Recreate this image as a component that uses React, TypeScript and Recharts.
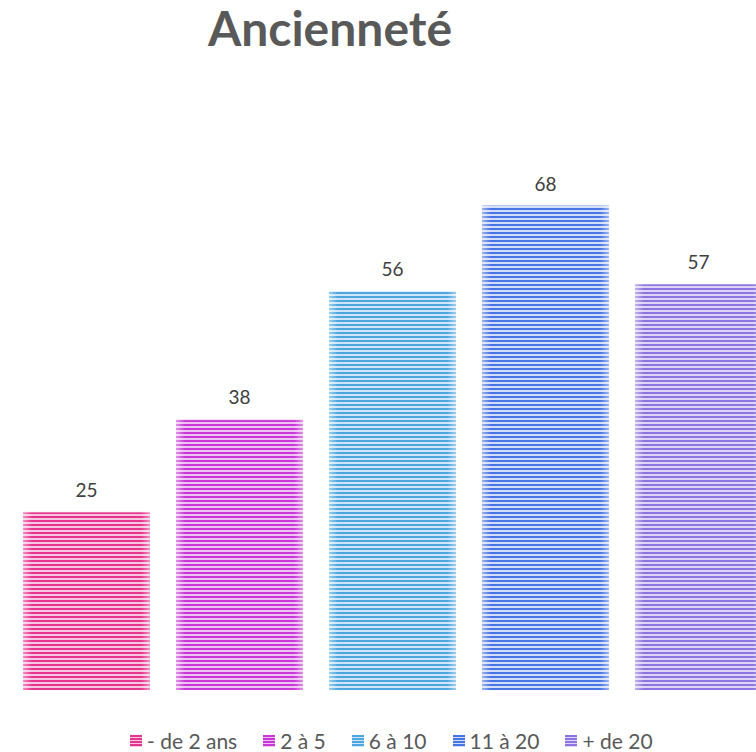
import { BarChart, Bar, XAxis, YAxis, Cell, LabelList } from "recharts";

const categories = ["- de 2 ans", "2 à 5", "6 à 10", "11 à 20", "+ de 20"];
const values = [25, 38, 56, 68, 57];
const darkColors = ["#E6358E", "#C936D6", "#4DA6DF", "#4875E4", "#8D74E0"];
const lightColors = ["#F8C6DF", "#EEC3F3", "#CFE6F7", "#D2DDF9", "#DDD4F7"];

const data = categories.map((name, i) => ({ name, value: values[i] }));

const font = "Lato, 'Open Sans', sans-serif";

function StripedBar(props: any) {
  const { x, y, width, height, index } = props;
  if (!height || height <= 0) return null;
  return (
    <g>
      <rect x={x} y={y} width={width} height={height} fill={`url(#stripe${index})`} />
      <rect x={x} y={y} width={width} height={height} fill="url(#edgeFade)" />
      <rect x={x} y={y} width={width} height={1} fill="#ffffff" fillOpacity={0.35} />
    </g>
  );
}

export default function App() {
  return (
    <div
      style={{
        position: "fixed",
        left: 0,
        top: 0,
        width: 756,
        height: 752,
        overflow: "hidden",
        background: "#fff",
        fontFamily: font,
      }}
    >
      <div
        style={{
          position: "absolute",
          left: 130,
          width: 400,
          top: 2,
          textAlign: "center",
          fontSize: 48,
          fontWeight: 700,
          color: "#595959",
          lineHeight: "52px",
        }}
      >
        Ancienneté
      </div>
      <BarChart
        width={785}
        height={752}
        data={data}
        margin={{ top: 120, right: 10, bottom: 62, left: 10 }}
        barSize={127}
      >
        <defs>
          {darkColors.map((c, i) => (
            <pattern key={i} id={`stripe${i}`} patternUnits="userSpaceOnUse" width={4} height={4}>
              <rect x={0} y={0} width={4} height={4} fill={lightColors[i]} />
              <rect x={0} y={0} width={4} height={2} fill={c} />
            </pattern>
          ))}
          <linearGradient id="edgeFade" x1="0" y1="0" x2="1" y2="0">
            <stop offset="0" stopColor="#ffffff" stopOpacity={0.45} />
            <stop offset="0.07" stopColor="#ffffff" stopOpacity={0} />
            <stop offset="0.93" stopColor="#ffffff" stopOpacity={0} />
            <stop offset="1" stopColor="#ffffff" stopOpacity={0.45} />
          </linearGradient>
        </defs>
        <XAxis dataKey="name" hide />
        <YAxis domain={[0, 80]} hide />
        <Bar dataKey="value" isAnimationActive={false} shape={StripedBar}>
          {data.map((d, i) => (
            <Cell key={d.name} fill={darkColors[i]} />
          ))}
          <LabelList
            dataKey="value"
            position="top"
            offset={15}
            fill="#404040"
            fontSize={19}
            fontFamily={font}
          />
        </Bar>
      </BarChart>
      <div
        style={{
          position: "absolute",
          left: 130,
          top: 728,
          height: 26,
          display: "flex",
          alignItems: "center",
          fontSize: 21,
          lineHeight: "26px",
          color: "#595959",
          whiteSpace: "nowrap",
        }}
      >
        {categories.map((c, i) => (
          <div key={c} style={{ display: "flex", alignItems: "center", marginRight: 26 }}>
            <svg width={12} height={12} style={{ marginRight: 5 }}>
              <rect width={12} height={12} fill={`url(#legStripe${i})`} />
              <defs>
                <pattern id={`legStripe${i}`} patternUnits="userSpaceOnUse" width={3} height={3}>
                  <rect width={3} height={3} fill={lightColors[i]} />
                  <rect width={3} height={2} fill={darkColors[i]} />
                </pattern>
              </defs>
            </svg>
            <span>{c}</span>
          </div>
        ))}
      </div>
    </div>
  );
}
